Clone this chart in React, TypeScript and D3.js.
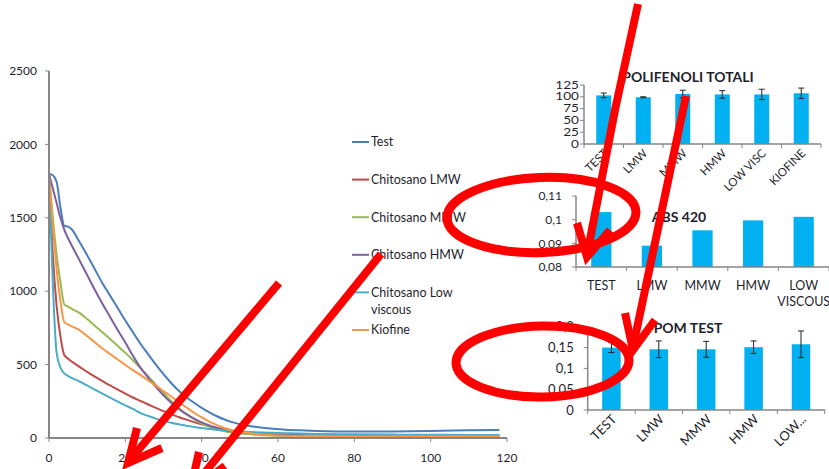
import React from "react";
import * as d3 from "d3";

// ---- Sampling times (minutes) shared by every curve of the main chart ----
const minutes = [0, 1, 2, 3, 4, 5, 6, 8, 10, 12, 14, 16, 18, 20, 22, 24, 26, 28, 30, 32, 34, 36, 38, 40, 42, 44, 46, 48, 50, 54, 58, 62, 66, 70, 80, 90, 100, 110, 118];

const testValues = [1800, 1790, 1745, 1570, 1445, 1440, 1420, 1335, 1245, 1150, 1055, 970, 885, 800, 720, 640, 570, 500, 435, 375, 322, 278, 240, 205, 175, 148, 126, 108, 94, 76, 64, 57, 52, 48, 44, 45, 48, 52, 55];
const lmwValues = [1800, 1250, 900, 690, 565, 540, 520, 485, 450, 418, 388, 358, 330, 302, 276, 252, 228, 205, 183, 163, 143, 125, 108, 93, 80, 68, 58, 49, 42, 30, 22, 17, 14, 12, 10, 10, 10, 10, 10];
const mmwValues = [1800, 1500, 1250, 1060, 910, 895, 880, 852, 810, 765, 720, 675, 628, 580, 530, 475, 420, 362, 305, 252, 205, 163, 128, 98, 76, 58, 45, 36, 30, 22, 17, 14, 12, 11, 10, 10, 10, 10, 10];
const hmwValues = [1800, 1700, 1600, 1500, 1420, 1360, 1310, 1210, 1110, 1010, 915, 825, 735, 650, 560, 478, 410, 348, 290, 240, 198, 162, 132, 106, 85, 68, 55, 46, 40, 33, 27, 23, 20, 18, 17, 16, 16, 16, 15];
const lowViscousValues = [1800, 1050, 580, 480, 440, 422, 408, 385, 358, 330, 303, 275, 248, 222, 198, 170, 150, 132, 116, 104, 93, 84, 75, 68, 62, 57, 52, 48, 45, 40, 36, 33, 30, 28, 25, 23, 22, 21, 20];
const kiofineValues = [1800, 1450, 1150, 930, 790, 772, 760, 735, 695, 652, 610, 572, 535, 498, 462, 428, 393, 357, 320, 283, 245, 208, 172, 140, 112, 88, 68, 53, 42, 28, 20, 16, 14, 13, 12, 12, 12, 12, 12];

const seriesNames = ["Test", "Chitosano LMW", "Chitosano MMW", "Chitosano HMW", "Chitosano Low viscous", "Kiofine"];
const seriesValues = [testValues, lmwValues, mmwValues, hmwValues, lowViscousValues, kiofineValues];
const seriesColors = ["#4A7EBB", "#BE4B48", "#98B954", "#7D60A0", "#4BACC6", "#F79646"];

const mainYTicks = [0, 500, 1000, 1500, 2000, 2500];
const mainXTicks = [0, 20, 40, 60, 80, 100, 120];

// ---- Polifenoli totali ----
const polifenoliCategories = ["TEST", "LMW", "MMW", "HMW", "LOW VISC", "KIOFINE"];
const polifenoliValues = [103, 99, 106, 105, 105, 107.5];
const polifenoliErrors = [5, 1, 8, 8, 11, 11];
const polifenoliTicks = [0, 25, 50, 75, 100, 125];

// ---- ABS 420 ----
const absCategories = ["TEST", "LMW", "MMW", "HMW", "LOW\nVISCOUS"];
const absValues = [0.1032, 0.089, 0.0955, 0.0997, 0.1012];
const absTicks = [0.08, 0.09, 0.1, 0.11];

// ---- POM test ----
const pomCategories = ["TEST", "LMW", "MMW", "HMW", "LOW..."];
const pomValues = [0.15, 0.146, 0.146, 0.151, 0.158];
const pomErrors = [0.012, 0.02, 0.019, 0.015, 0.032];
const pomTicks = [0, 0.05, 0.1, 0.15, 0.2];

// Hand-drawn red markings laid over the figure
const markArrows = [
  { shaft: [[638, 4], [615, 110], [587, 255]], head: [[577, 223], [587, 257], [610, 230]] },
  { shaft: [[686, 96], [633, 347]], head: [[625, 313], [633, 350], [655, 320]] },
  { shaft: [[279, 283], [129, 461]], head: [[137, 428], [128, 463], [162, 448]] },
  { shaft: [[381, 254], [194, 486]], head: [[199, 452], [190, 492], [225, 466]] },
];
const markEllipses = [
  { cx: 541.5, cy: 215, rx: 94.5, ry: 37.5, rot: -2 },
  { cx: 542.5, cy: 361.5, rx: 86.5, ry: 35.5, rot: -1 },
];

const FONT = "Lato, 'Open Sans', sans-serif";
const AXIS = "#868686";
const TEXT = "#1f1f2e";
const BAR = "#00B0F0";

const comma = (v: number) => d3.format("~g")(v).replace(".", ",");

function BarPanel(props: {
  categories: string[];
  values: number[];
  errors?: number[];
  ticks: number[];
  domain: [number, number];
  xRange: [number, number];
  yRange: [number, number];
  axisEnd: number;
  barPad: number;
  title: string;
  titleX: number;
  titleY: number;
  tickFont: number;
  tickStretch: number;
  tickGap: number;
  labelMode: "rotate" | "flat";
  labelFont: number;
  labelDy: number;
  labelDx: number;
}) {
  const p = props;
  const x = d3.scaleBand<string>().domain(p.categories).range(p.xRange).paddingInner(p.barPad).paddingOuter(p.barPad / 2);
  const y = d3.scaleLinear().domain(p.domain).range(p.yRange);
  const step = x.step();
  const x0 = p.xRange[0];
  const base = y(p.domain[0]);
  return (
    <g>
      {p.categories.map((c, i) => {
        const v = p.values[i];
        const bx = x(c)!;
        return <rect key={c} x={bx} y={y(v)} width={x.bandwidth()} height={base - y(v)} fill={BAR} />;
      })}
      {p.errors &&
        p.categories.map((c, i) => {
          const cx = x(c)! + x.bandwidth() / 2;
          const hi = y(p.values[i] + p.errors![i]);
          const lo = y(p.values[i] - p.errors![i]);
          return (
            <g key={c} stroke="#222" strokeWidth={1}>
              <line x1={cx} x2={cx} y1={hi} y2={lo} />
              <line x1={cx - 3} x2={cx + 3} y1={hi} y2={hi} />
              <line x1={cx - 3} x2={cx + 3} y1={lo} y2={lo} />
            </g>
          );
        })}
      <line x1={x0} x2={x0} y1={p.yRange[1]} y2={base} stroke={AXIS} strokeWidth={1.5} />
      <line x1={x0} x2={p.axisEnd} y1={base} y2={base} stroke={AXIS} strokeWidth={1.5} />
      {p.ticks.map((t) => (
        <g key={t}>
          <line x1={x0 - 4} x2={x0} y1={y(t)} y2={y(t)} stroke={AXIS} strokeWidth={1} />
          <g transform={`translate(${x0 - p.tickGap},${y(t)}) scale(${p.tickStretch},1)`}>
            <text textAnchor="end" dy="0.35em" fontSize={p.tickFont} fill={TEXT} fontFamily={FONT}>
              {comma(t)}
            </text>
          </g>
        </g>
      ))}
      {d3.range(p.categories.length + 1).map((i) => (
        <line key={i} x1={x0 + step * i} x2={x0 + step * i} y1={base} y2={base + 4} stroke={AXIS} strokeWidth={1} />
      ))}
      {p.categories.map((c) => {
        const cx = x(c)! + x.bandwidth() / 2;
        if (p.labelMode === "rotate") {
          return (
            <text key={c} transform={`translate(${cx + p.labelDx},${base + p.labelDy}) rotate(-45)`} textAnchor="end" fontSize={p.labelFont} fill={TEXT} fontFamily={FONT}>
              {c}
            </text>
          );
        }
        return (
          <text key={c} x={cx} y={base + p.labelDy} textAnchor="middle" fontSize={p.labelFont} fill={TEXT} fontFamily={FONT}>
            {c.split("\n").map((ln, k) => (
              <tspan key={k} x={cx} dy={k === 0 ? 0 : p.labelFont * 1.3}>
                {ln}
              </tspan>
            ))}
          </text>
        );
      })}
      <text x={p.titleX} y={p.titleY} textAnchor="middle" fontSize={14} fontWeight={700} fill={TEXT} fontFamily={FONT}>
        {p.title}
      </text>
    </g>
  );
}

export default function App() {
  const W = 829;
  const H = 469;
  const x = d3.scaleLinear().domain([0, 120]).range([49, 507]);
  const y = d3.scaleLinear().domain([0, 2500]).range([438, 71]);
  const line = d3
    .line<number>()
    .x((_, i) => x(minutes[i]))
    .y((d) => y(d))
    .curve(d3.curveMonotoneX);

  const legendX = 352;
  const legendTop = 142;
  const legendStep = 37.6;
  const arrowPath = d3.line();

  return (
    <svg width={W} height={H} style={{ position: "absolute", left: 0, top: 0, background: "#fff", display: "block" }}>
      <rect width={W} height={H} fill="#fff" />

      {/* main decay chart */}
      <g>
        {seriesValues.map((vals, i) => (
          <path key={seriesNames[i]} d={line(vals) ?? ""} fill="none" stroke={seriesColors[i]} strokeWidth={2} />
        ))}
        <line x1={x(0)} x2={x(0)} y1={y(2500)} y2={y(0)} stroke={AXIS} strokeWidth={2} />
        <line x1={x(0)} x2={x(120)} y1={y(0)} y2={y(0)} stroke={AXIS} strokeWidth={2} />
        {mainYTicks.map((t) => (
          <g key={t}>
            <line x1={x(0) - 4} x2={x(0)} y1={y(t)} y2={y(t)} stroke={AXIS} strokeWidth={1} />
            <text x={37} y={y(t)} dy="0.35em" textAnchor="end" fontSize={12} fill={TEXT} fontFamily={FONT}>
              {t}
            </text>
          </g>
        ))}
        {mainXTicks.map((t) => (
          <g key={t}>
            <line x1={x(t)} x2={x(t)} y1={y(0)} y2={y(0) + 4} stroke={AXIS} strokeWidth={1} />
            <text x={x(t)} y={462} textAnchor="middle" fontSize={12} fill={TEXT} fontFamily={FONT}>
              {t}
            </text>
          </g>
        ))}
        {seriesNames.map((name, i) => {
          const ly = legendTop + legendStep * i;
          const words = name === "Chitosano Low viscous" ? ["Chitosano Low", "viscous"] : [name];
          return (
            <g key={name}>
              <line x1={legendX} x2={legendX + 17} y1={ly} y2={ly} stroke={seriesColors[i]} strokeWidth={2} />
              <text x={legendX + 19} y={ly} fontSize={12.5} fill={TEXT} fontFamily={FONT}>
                {words.map((w, k) => (
                  <tspan key={k} x={legendX + 19} dy={k === 0 ? "0.35em" : 17.5}>
                    {w}
                  </tspan>
                ))}
              </text>
            </g>
          );
        })}
      </g>

      <BarPanel
        categories={polifenoliCategories}
        values={polifenoliValues}
        errors={polifenoliErrors}
        ticks={polifenoliTicks}
        domain={[0, 125]}
        xRange={[584, 821]}
        yRange={[144, 85]}
        axisEnd={821}
        barPad={0.62}
        title="POLIFENOLI TOTALI"
        titleX={688}
        titleY={82}
        tickFont={10.5}
        tickStretch={1.3}
        tickGap={5}
        labelMode="rotate"
        labelFont={11.5}
        labelDy={10}
        labelDx={5}
      />
      <BarPanel
        categories={absCategories}
        values={absValues}
        ticks={absTicks}
        domain={[0.08, 0.11]}
        xRange={[576, 829]}
        yRange={[267, 196]}
        axisEnd={829}
        barPad={0.6}
        title="ABS 420"
        titleX={679}
        titleY={222}
        tickFont={12}
        tickStretch={1}
        tickGap={14}
        labelMode="flat"
        labelFont={12.5}
        labelDy={23}
        labelDx={0}
      />
      <BarPanel
        categories={pomCategories}
        values={pomValues}
        errors={pomErrors}
        ticks={pomTicks}
        domain={[0, 0.2]}
        xRange={[587.7, 824.7]}
        yRange={[410, 326.8]}
        axisEnd={825}
        barPad={0.61}
        title="POM TEST"
        titleX={688}
        titleY={333}
        tickFont={13}
        tickStretch={1}
        tickGap={14}
        labelMode="rotate"
        labelFont={13}
        labelDy={10}
        labelDx={6}
      />

      {/* red markings */}
      <g fill="none" stroke="#FF0000">
        {markEllipses.map((e, i) => (
          <ellipse key={i} cx={e.cx} cy={e.cy} rx={e.rx} ry={e.ry} strokeWidth={9} transform={`rotate(${e.rot},${e.cx},${e.cy})`} />
        ))}
        {markArrows.map((a, i) => (
          <g key={i} strokeWidth={8}>
            <path d={arrowPath(a.shaft as [number, number][]) ?? ""} strokeLinecap="butt" strokeLinejoin="round" />
            <path d={arrowPath(a.head as [number, number][]) ?? ""} strokeLinecap="butt" strokeLinejoin="miter" />
          </g>
        ))}
      </g>
    </svg>
  );
}
